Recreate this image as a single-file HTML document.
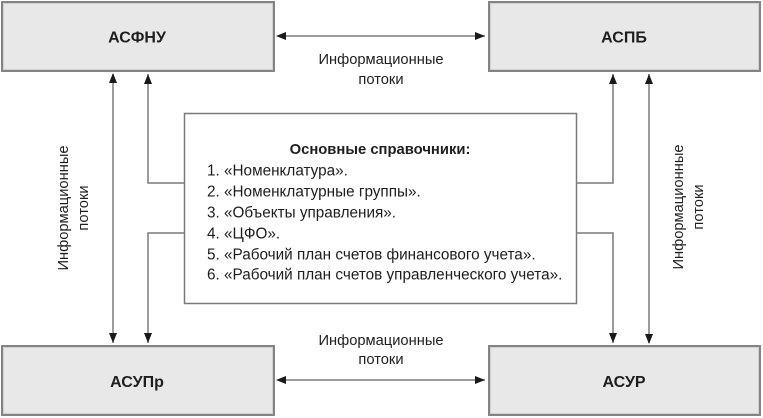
<!DOCTYPE html>
<html><head><meta charset="utf-8"><style>
html,body{margin:0;padding:0;background:#fff;}
svg{display:block;}
text{font-family:"Liberation Sans","Noto Sans CJK SC",sans-serif;fill:#1e1e1e;}
</style></head><body>
<svg width="763" height="418" viewBox="0 0 763 418" xmlns="http://www.w3.org/2000/svg">
<defs>
<marker id="ah" markerWidth="10" markerHeight="8" refX="10" refY="4" orient="auto" markerUnits="userSpaceOnUse">
<path d="M0,0 L10,4 L0,8 Z" fill="#1a1a1a"/>
</marker>
</defs>
<!-- boxes -->
<g fill="#e8e8e8" stroke="#848484" stroke-width="2">
<rect x="2" y="2" width="272" height="69"/>
<rect x="489" y="2" width="271" height="69"/>
<rect x="2" y="346" width="272" height="69"/>
<rect x="489" y="346" width="271" height="69"/>
</g>
<g fill="none" stroke="#d0d0d0" stroke-width="1">
<rect x="3.5" y="3.5" width="269" height="66"/>
<rect x="490.5" y="3.5" width="268" height="66"/>
<rect x="3.5" y="347.5" width="269" height="66"/>
<rect x="490.5" y="347.5" width="268" height="66"/>
</g>
<rect x="184.5" y="113.5" width="392" height="190" fill="#fff" stroke="#7a7a7a" stroke-width="1.5"/>
<!-- connectors -->
<g fill="none" stroke="#7a7a7a" stroke-width="1.5">
<line x1="278" y1="36" x2="485" y2="36" marker-end="url(#ah)"/>
<line x1="278" y1="380" x2="485" y2="380" marker-end="url(#ah)"/>
<line x1="113" y1="74" x2="113" y2="343" marker-end="url(#ah)"/>
<polyline points="184,183 148,183 148,74" marker-end="url(#ah)"/>
<polyline points="184,233 148,233 148,343" marker-end="url(#ah)"/>
<polyline points="577,183 613,183 613,74" marker-end="url(#ah)"/>
<polyline points="577,233 613,233 613,343" marker-end="url(#ah)"/>
<line x1="649" y1="343" x2="649" y2="74" marker-end="url(#ah)"/>
</g>
<!-- extra arrowheads at the start ends -->
<g fill="#1a1a1a">
<path d="M276,36 L286,32 L286,40 Z"/>
<path d="M276,380 L286,376 L286,384 Z"/>
<path d="M113,73 L109,83 L117,83 Z"/>
<path d="M649,344 L645,334 L653,334 Z"/>
</g>
<!-- box labels -->
<g font-weight="bold" font-size="16" text-anchor="middle">
<text x="137" y="42.5">АСФНУ</text>
<text x="624" y="42.5">АСПБ</text>
<text x="137" y="387">АСУПр</text>
<text x="624" y="387">АСУР</text>
</g>
<!-- flow labels -->
<g font-size="14.7" text-anchor="middle" fill="#2a2a2a">
<text x="381" y="64">Информационные</text>
<text x="381" y="84">потоки</text>
<text x="381" y="345">Информационные</text>
<text x="381" y="364">потоки</text>
<text transform="translate(68,208) rotate(-90)">Информационные</text>
<text transform="translate(88,208) rotate(-90)">потоки</text>
<text transform="translate(683,207) rotate(-90)">Информационные</text>
<text transform="translate(703,207) rotate(-90)">потоки</text>
</g>
<!-- center text -->
<text x="380" y="154" font-size="14.8" font-weight="bold" text-anchor="middle">Основные справочники:</text>
<g font-size="15.3">
<text x="207" y="175.5">1. «Номенклатура».</text>
<text x="207" y="196.5">2. «Номенклатурные группы».</text>
<text x="207" y="217.5">3. «Объекты управления».</text>
<text x="207" y="238.5">4. «ЦФО».</text>
<text x="207" y="259.5">5. «Рабочий план счетов финансового учета».</text>
<text x="207" y="279.5">6. «Рабочий план счетов управленческого учета».</text>
</g>
</svg>
</body></html>
